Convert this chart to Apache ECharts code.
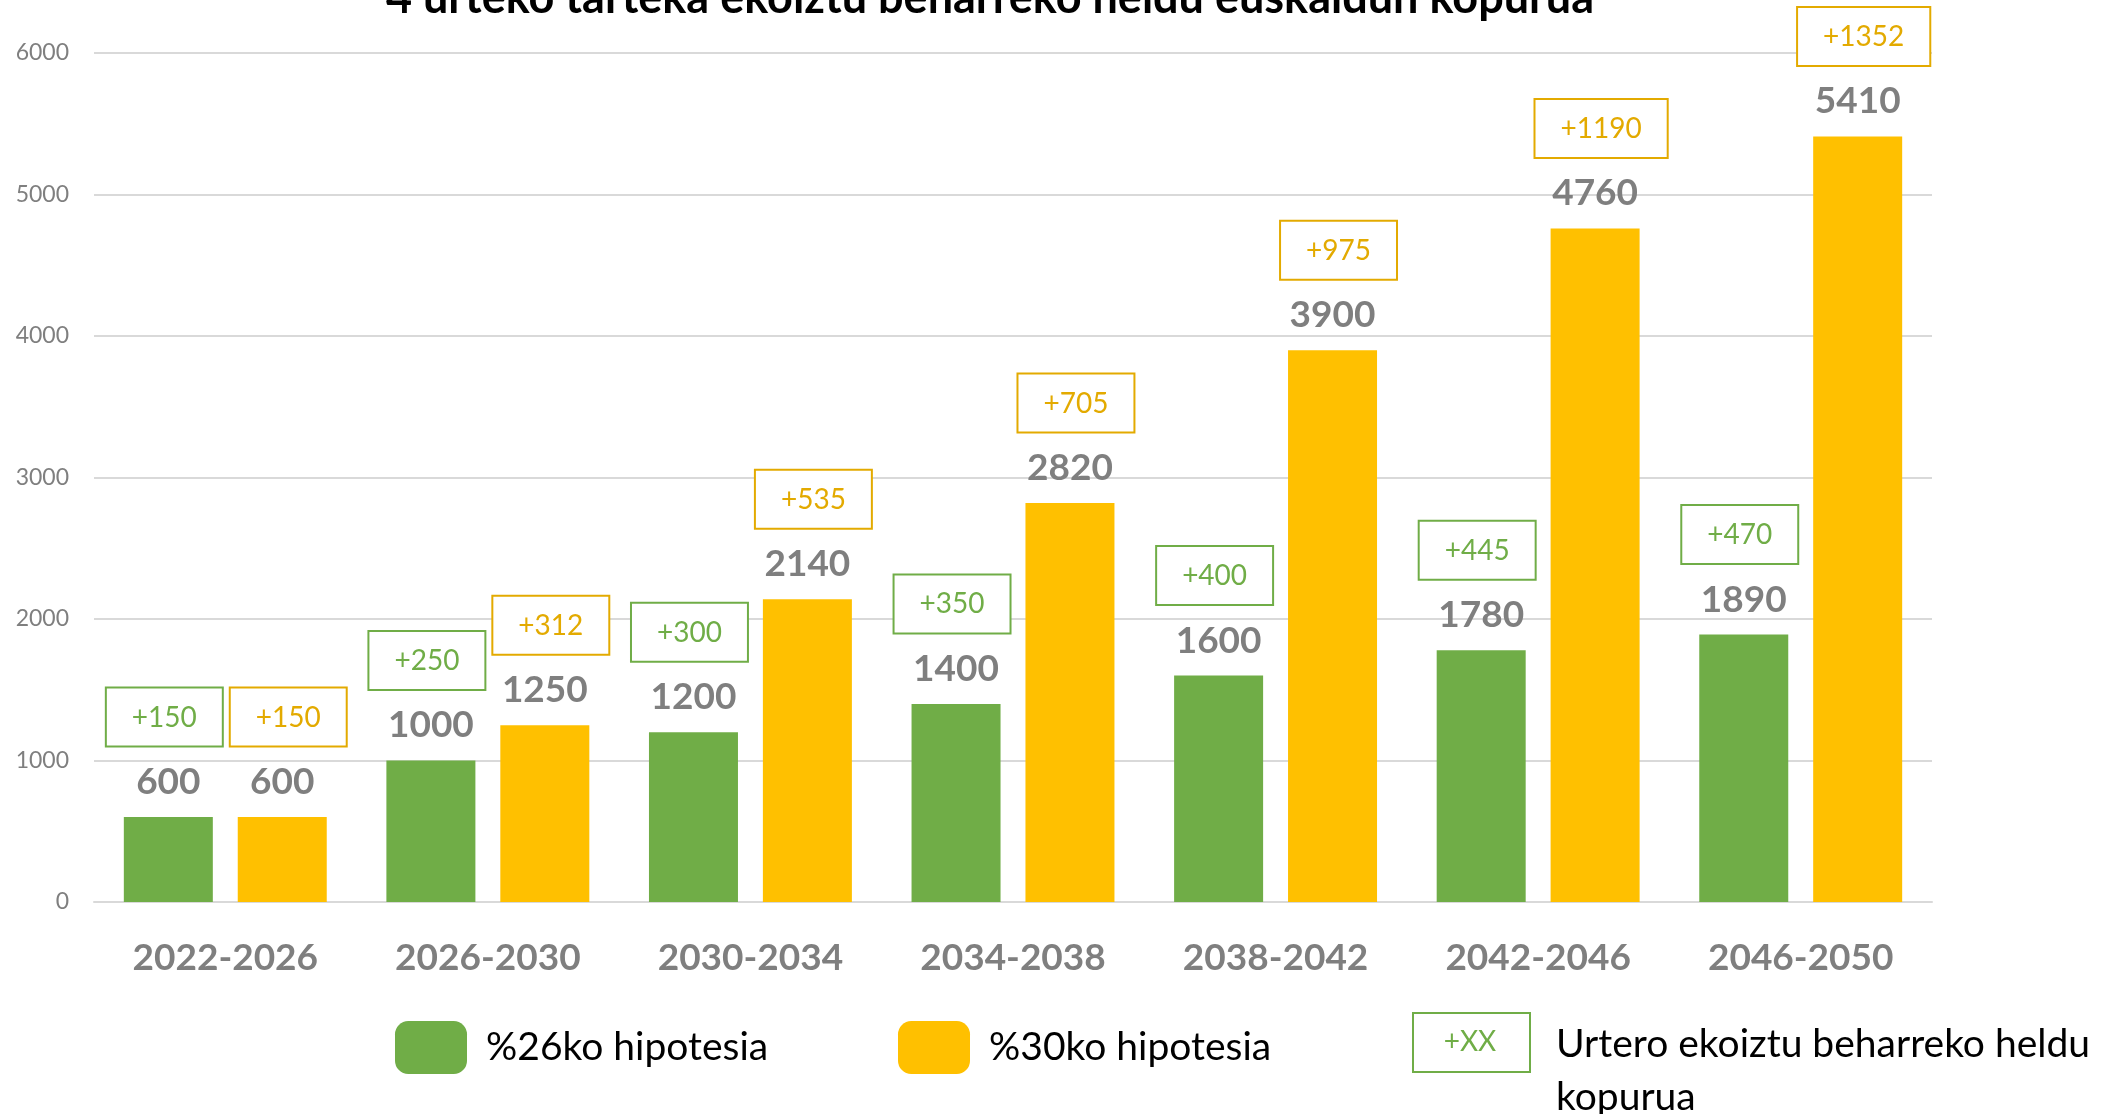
<!DOCTYPE html>
<html>
<head>
<meta charset="utf-8">
<script src="https://cdn.jsdelivr.net/npm/echarts@6/dist/echarts.min.js"></script>
<style>
html,body{margin:0;padding:0;background:#fff;}
#chart{width:2107px;height:1114px;}
</style>
</head>
<body>
<div id="chart"></div>
<script>
const categories = ['2022-2026','2026-2030','2030-2034','2034-2038','2038-2042','2042-2046','2046-2050'];
const seriesNames = ['%26ko hipotesia','%30ko hipotesia'];
const values26 = [600,1000,1200,1400,1600,1780,1890];
const values30 = [600,1250,2140,2820,3900,4760,5410];
const yearly26 = [150,250,300,350,400,445,470];
const yearly30 = [150,312,535,705,975,1190,1352];
const titleText = '4 urteko tarteka ekoiztu beharreko heldu euskaldun kopurua';
const legendBoxText = '+XX';
const legendBoxLabel = 'Urtero ekoiztu beharreko heldu\nkopurua';

const FONT = 'Lato';
const GREEN = '#70AD47';
const YELLOW = '#FFC000';
const GOLD = '#E3AA00';
const GRAY = '#7F7F7F';
const GRID = '#D9D9D9';

// spacerBefore / spacerAfter nudge the "+XX" box sideways (style only)
function makeLabel(yearly, boxColor, spacerBefore, spacerAfter){
  return {
    show: true,
    position: 'top',
    distance: 3,
    formatter: p => '{sa| }{box|+' + yearly[p.dataIndex] + '}{sb| }\n{gap| }\n{val|' + p.value + '}',
    rich: {
      sa: {width: spacerBefore, fontSize: 2},
      sb: {width: spacerAfter, fontSize: 2},
      box: {
        fontFamily: FONT, fontSize: 28, color: boxColor,
        lineHeight: 28, padding: [15, 25, 14, 25],
        borderColor: boxColor, borderWidth: 2, backgroundColor: '#fff', align: 'center'
      },
      gap: {fontSize: 2, lineHeight: 19},
      val: {
        fontFamily: FONT, fontSize: 37, fontWeight: 'bold', color: GRAY,
        lineHeight: 64, align: 'center'
      }
    }
  };
}

const chart = echarts.init(document.getElementById('chart'), null, {renderer: 'canvas'});
chart.setOption({
  animation: false,
  backgroundColor: '#fff',
  title: {
    text: titleText,
    left: 990, top: -24, textAlign: 'center', padding: 0,
    textStyle: {fontFamily: FONT, fontSize: 45, fontWeight: 'bold', color: '#000', lineHeight: 45}
  },
  grid: {left: 94, right: 175, top: 53, bottom: 212, containLabel: false},
  legend: [
    {data: [seriesNames[0]], left: 390, top: 1016, itemWidth: 72, itemHeight: 53, icon: 'roundRect',
     textStyle: {fontFamily: FONT, fontSize: 39, color: '#000', padding: [0,0,0,14]}},
    {data: [seriesNames[1]], left: 893, top: 1016, itemWidth: 72, itemHeight: 53, icon: 'roundRect',
     textStyle: {fontFamily: FONT, fontSize: 39, color: '#000', padding: [0,0,0,14]}}
  ],
  xAxis: {
    type: 'category',
    data: categories,
    axisTick: {show: false},
    axisLine: {lineStyle: {color: GRID, width: 2}},
    axisLabel: {fontFamily: FONT, fontSize: 37, fontWeight: 'bold', color: GRAY, margin: 38}
  },
  yAxis: {
    type: 'value', min: 0, max: 6000, interval: 1000,
    axisLine: {show: false}, axisTick: {show: false},
    splitLine: {lineStyle: {color: GRID, width: 2}},
    axisLabel: {fontFamily: FONT, fontSize: 23, color: GRAY, margin: 25, formatter: v => String(v)}
  },
  series: [
    {name: seriesNames[0], type: 'bar', data: values26, barWidth: 89, barGap: '28%',
     itemStyle: {color: GREEN}, label: makeLabel(yearly26, GREEN, 0, 8)},
    {name: seriesNames[1], type: 'bar', data: values30, barWidth: 89, barGap: '28%',
     itemStyle: {color: YELLOW}, label: makeLabel(yearly30, GOLD, 12, 0)}
  ],
  graphic: [
    {type: 'rect', left: 1412, top: 1012, shape: {width: 117, height: 59},
     style: {fill: '#fff', stroke: GREEN, lineWidth: 2}},
    {type: 'text', x: 1470, y: 1042,
     style: {text: legendBoxText, fontFamily: FONT, fontSize: 28, fill: GREEN, align: 'center', verticalAlign: 'middle'}},
    {type: 'text', x: 1556, y: 1018,
     style: {text: legendBoxLabel, fontFamily: FONT, fontSize: 39, fill: '#000', lineHeight: 53, align: 'left', verticalAlign: 'top'}}
  ]
});
</script>
</body>
</html>
